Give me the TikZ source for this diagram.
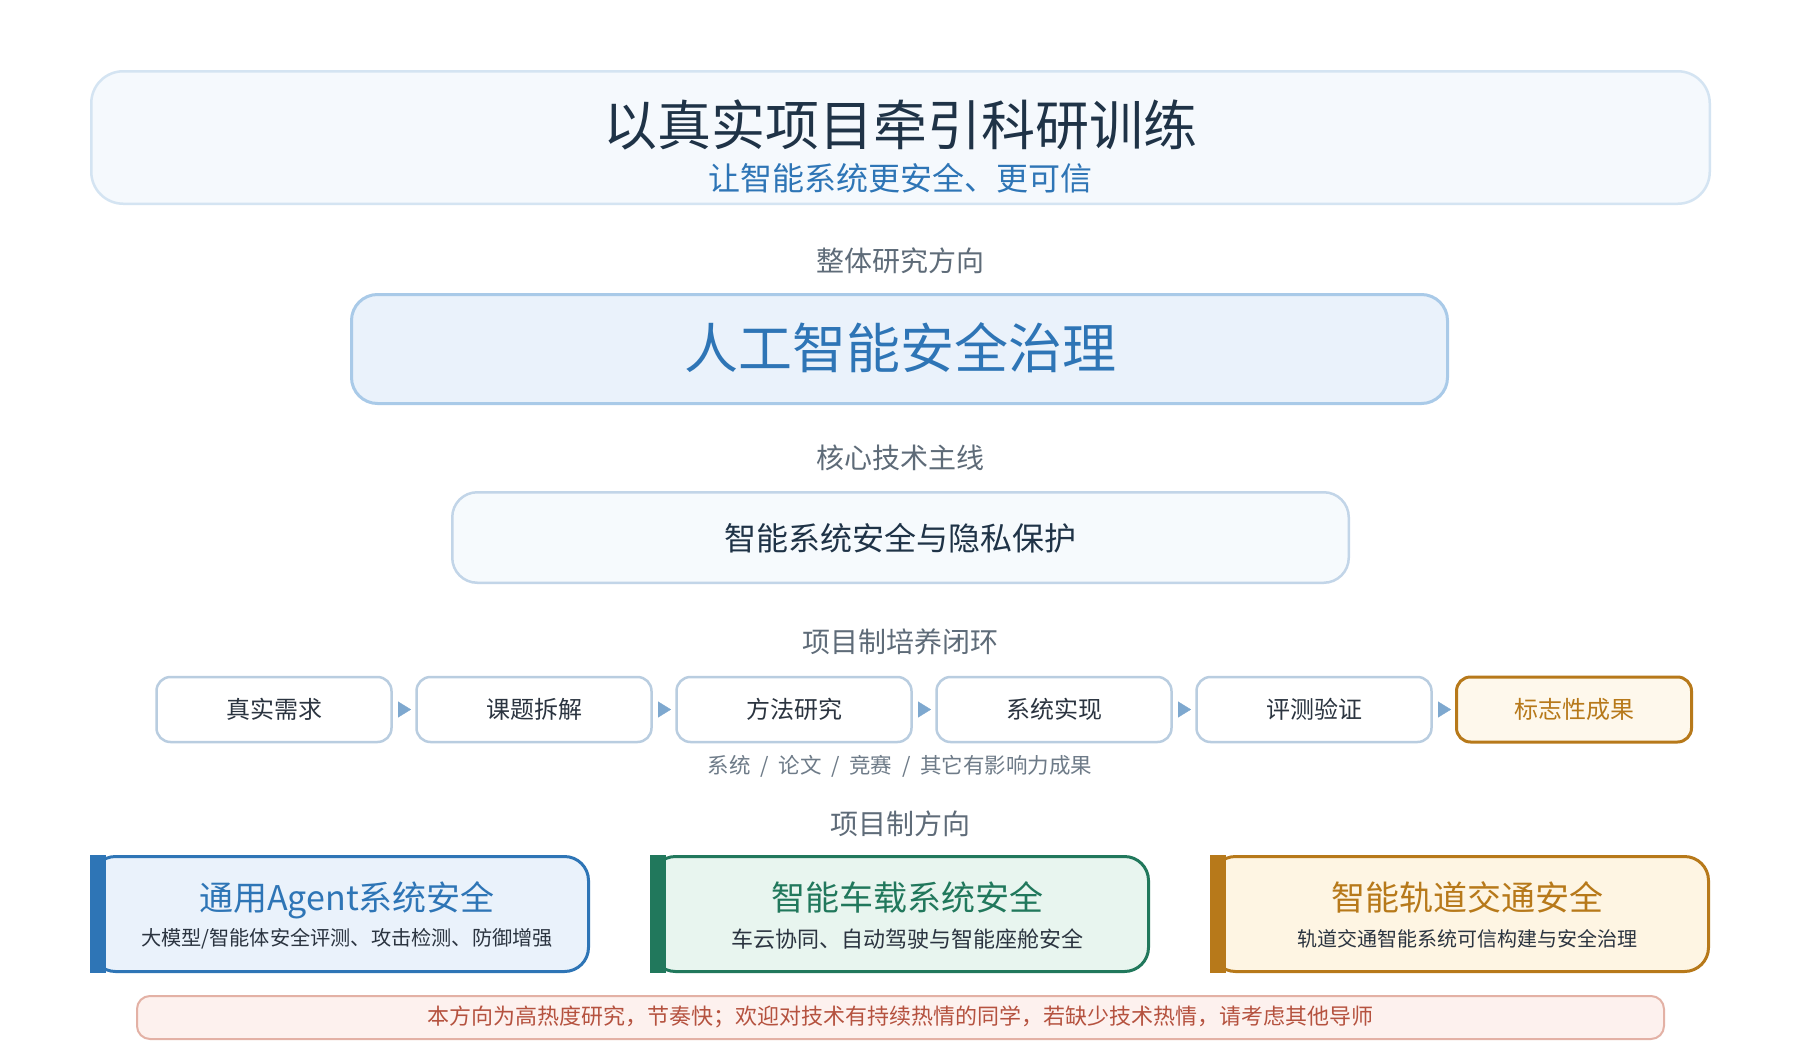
\documentclass[tikz,border=0pt]{standalone}
\usepackage{fontspec}
\setmainfont{Noto Sans CJK SC}
\usetikzlibrary{arrows.meta,calc}
\definecolor{topfill}{HTML}{F5F9FD}
\definecolor{topborder}{HTML}{D4E4F2}
\definecolor{titlec}{HTML}{1F3347}
\definecolor{bluec}{HTML}{2E75B6}
\definecolor{bluefill}{HTML}{EAF2FB}
\definecolor{blueborder}{HTML}{A9CAE8}
\definecolor{labelc}{HTML}{5E6B78}
\definecolor{boxthreefill}{HTML}{F6FAFD}
\definecolor{boxthreeborder}{HTML}{C2D5E8}
\definecolor{stepborder}{HTML}{B9CDE0}
\definecolor{darktext}{HTML}{2B3440}
\definecolor{arrowc}{HTML}{7EA8CF}
\definecolor{goldc}{HTML}{B7791A}
\definecolor{goldfill}{HTML}{FEF8EC}
\definecolor{cardgoldfill}{HTML}{FEF5E3}
\definecolor{greenc}{HTML}{21785C}
\definecolor{greenfill}{HTML}{E8F5EF}
\definecolor{notefill}{HTML}{FDF1EE}
\definecolor{noteborder}{HTML}{E3B1A5}
\definecolor{notetext}{HTML}{B5523F}
\definecolor{graytext}{HTML}{6E7B88}
\newcommand\myfs[1]{\fontsize{#1}{#1}\selectfont}
\tikzset{
  panel/.style={rectangle, outer sep=0pt, inner sep=0pt},
  txt/.style={inner sep=0pt, outer sep=0pt, anchor=center},
  seclabel/.style={txt, font=\myfs{28}, text=labelc},
  stepbox/.style={panel, draw=stepborder, fill=white, line width=2.5pt, rounded corners=14pt, minimum width=235pt, minimum height=65pt},
  steptext/.style={txt, font=\myfs{24}, text=darktext},
  steparrow/.style={draw=arrowc, line width=0.3pt, shorten <=6.5pt, shorten >=5.5pt, -{Triangle[length=13pt,width=16pt]}},
  card/.style={panel, line width=3pt, rounded corners=24pt, minimum width=497pt, minimum height=115pt},
  cardtitle/.style={txt, font=\myfs{34}},
  cardsub/.style={txt, text=darktext},
}
\begin{document}
\begin{tikzpicture}[x=1pt,y=-1pt]
\useasboundingbox (0,0) rectangle (1800,1060);
\fill[white] (0,0) rectangle (1800,1060);

% header
\node[panel, draw=topborder, fill=topfill, line width=2.5pt, rounded corners=32pt, minimum width=1618.5pt, minimum height=132.5pt] (top) at (900.5,137.5) {};
\node[txt, font=\myfs{54}, text=titlec] (title) at (900,125) {以真实项目牵引科研训练};
\node[txt, font=\myfs{32}, text=bluec] (subtitle) at (900,178) {让智能系统更安全、更可信};

% overall direction
\node[seclabel] (lab1) at (900,261) {整体研究方向};
\node[panel, draw=blueborder, fill=bluefill, line width=3pt, rounded corners=26pt, minimum width=1096pt, minimum height=109pt] (dir) at (899.5,349) {};
\node[txt, font=\myfs{54}, text=bluec] (dirtext) at (900,348) {人工智能安全治理};

% core technology
\node[seclabel] (lab2) at (900,458) {核心技术主线};
\node[panel, draw=boxthreeborder, fill=boxthreefill, line width=2.5pt, rounded corners=25pt, minimum width=896.5pt, minimum height=90.5pt] (core) at (900.5,537.5) {};
\node[txt, font=\myfs{32}, text=titlec] (coretext) at (900,538) {智能系统安全与隐私保护};

% loop
\node[seclabel] (lab3) at (900,642) {项目制培养闭环};
\node[stepbox] (s1) at (274,709.5) {};
\node[stepbox] (s2) at (534,709.5) {};
\node[stepbox] (s3) at (794,709.5) {};
\node[stepbox] (s4) at (1054,709.5) {};
\node[stepbox] (s5) at (1314,709.5) {};
\node[stepbox, draw=goldc, fill=goldfill, line width=3pt] (s6) at (1574,709.5) {};
\node[steptext] at (s1) {真实需求};
\node[steptext] at (s2) {课题拆解};
\node[steptext] at (s3) {方法研究};
\node[steptext] at (s4) {系统实现};
\node[steptext] at (s5) {评测验证};
\node[steptext, text=goldc] at (s6) {标志性成果};
\draw[steparrow] (s1.east) -- (s2.west);
\draw[steparrow] (s2.east) -- (s3.west);
\draw[steparrow] (s3.east) -- (s4.west);
\draw[steparrow] (s4.east) -- (s5.west);
\draw[steparrow] (s5.east) -- (s6.west);
\node[txt, font=\myfs{21.5}, text=graytext] (outputs) at (900,766) {系统\hspace{0.45em}/\hspace{0.45em}论文\hspace{0.45em}/\hspace{0.45em}竞赛\hspace{0.45em}/\hspace{0.45em}其它有影响力成果};

% project directions
\node[seclabel] (lab4) at (900,824) {项目制方向};
\node[card, draw=bluec, fill=bluefill] (c1) at (340,914) {};
\node[card, draw=greenc, fill=greenfill] (c2) at (900,914) {};
\node[card, draw=goldc, fill=cardgoldfill] (c3) at (1460,914) {};
\fill[bluec] ($(c1.north west)+(-1.5,-1.5)$) rectangle ($(c1.south west)+(14,1.5)$);
\fill[greenc] ($(c2.north west)+(-1.5,-1.5)$) rectangle ($(c2.south west)+(14,1.5)$);
\fill[goldc] ($(c3.north west)+(-1.5,-1.5)$) rectangle ($(c3.south west)+(14,1.5)$);
\node[cardtitle, text=bluec] (c1t) at (347,900) {通用Agent系统安全};
\node[cardsub, font=\myfs{20.2}] (c1s) at (347,939) {大模型/智能体安全评测、攻击检测、防御增强};
\node[cardtitle, text=greenc] (c2t) at (907,897) {智能车载系统安全};
\node[cardsub, font=\myfs{22}] (c2s) at (907,939) {车云协同、自动驾驶与智能座舱安全};
\node[cardtitle, text=goldc] (c3t) at (1467,897) {智能轨道交通安全};
\node[cardsub, font=\myfs{20}] (c3s) at (1467,939) {轨道交通智能系统可信构建与安全治理};

% note
\node[panel, draw=noteborder, fill=notefill, line width=2pt, rounded corners=13pt, minimum width=1527pt, minimum height=43pt] (note) at (900.5,1017.5) {};
\node[txt, font=\myfs{22}, text=notetext] (notetext) at (900,1017) {本方向为高热度研究，节奏快；欢迎对技术有持续热情的同学，若缺少技术热情，请考虑其他导师};
\end{tikzpicture}
\end{document}
